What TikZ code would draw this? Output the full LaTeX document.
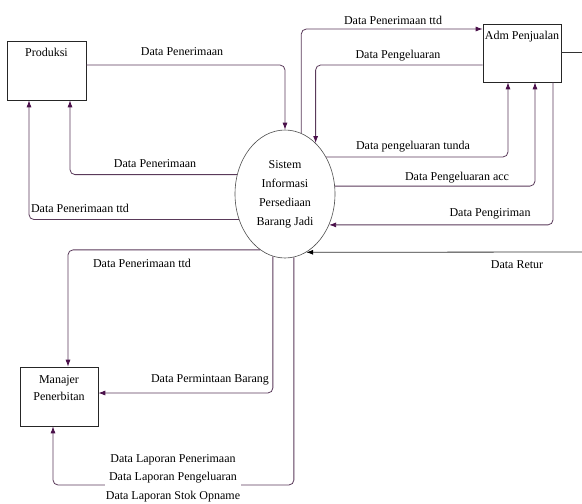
\documentclass[tikz,border=0pt]{standalone}
\usepackage{fontspec}
\setmainfont{Liberation Serif}
\usetikzlibrary{shapes.geometric,arrows.meta}
\definecolor{lc}{HTML}{5A3A5A}
\definecolor{ah}{HTML}{4A104A}
\begin{document}
\begin{tikzpicture}[x=1pt,y=-1pt,
 every node/.style={font=\fontsize{12}{14}\selectfont},
 box/.style={draw=black!85, line width=0.6pt, minimum width=79pt, inner sep=0pt},
 boxlabel/.style={anchor=north, inner sep=0pt, align=center, font=\fontsize{12}{17}\selectfont},
 proc/.style={ellipse, draw=black!70, line width=0.6pt, minimum width=100pt, minimum height=128pt, inner sep=0pt, align=center, font=\fontsize{12}{19}\selectfont},
 flow/.style={draw=lc, line width=0.8pt, rounded corners=5pt, -{Latex[length=7pt,width=5pt,color=ah]}},
 flowblack/.style={draw=black!80, line width=0.8pt, -{Latex[length=7pt,width=5pt,color=black]}},
 plain/.style={draw=black!80, line width=0.8pt},
 lbl/.style={inner sep=1pt}]
\useasboundingbox (0,0) rectangle (582,504);

% nodes
\node[box, minimum height=59pt, label={[boxlabel, yshift=-7pt]north:Produksi}] (prod) at (46.5,70.5) {};
\node[box, minimum height=58pt, minimum width=78pt, label={[boxlabel, yshift=-7pt]north:Adm Penjualan}] (adm) at (522,53) {};
\node[box, minimum height=59pt, minimum width=78pt, label={[boxlabel, yshift=-9pt]north:Manajer\\Penerbitan}] (man) at (59,396.5) {};
\node[proc] (s) at (285,194) {Sistem\\Informasi\\Persediaan\\Barang Jadi};

\coordinate (ext) at (582,52);
\coordinate (ret) at (582,252);
\coordinate (lp) at (53,485);

% connectors
\draw[flow] (prod.east |- 0,65) -| (s.north);
\draw[flow] (s.158.3) -| (prod.south -| 70,0);
\draw[flow] (s.209.6) -| (prod.south -| 29,0);
\draw[flow] (s.75.2) |- (adm.west |- 0,29);
\draw[flow] (adm.west |- 0,65) -| (s.59.6);
\draw[flow] (s.42.2) -| (adm.south -| 508,0);
\draw[flow] (s.9.2) -| (adm.south -| 535,0);
\draw[flow] (adm.south -| 553,0) |- (s.325.8);
\draw[plain] (adm.east |- ext) -- (ext);
\draw[flowblack] (ret) -- (s.290);
\draw[flow] (s.246.6) -| (man.north -| 68,0);
\draw[flow] (s.259.1) |- (man.east |- 0,393);
\draw[flow] (s.278.1) |- (lp) -- (man.south -| lp);

% labels
\node[lbl] at (182,52) {Data Penerimaan};
\node[lbl] at (155,164) {Data Penerimaan};
\node[lbl] at (80,208) {Data Penerimaan ttd};
\node[lbl] at (393,20) {Data Penerimaan ttd};
\node[lbl] at (398,56) {Data Pengeluaran};
\node[lbl] at (413,147) {Data pengeluaran tunda};
\node[lbl] at (457,178) {Data Pengeluaran acc};
\node[lbl] at (490,214) {Data Pengiriman};
\node[lbl] at (517,265) {Data Retur};
\node[lbl] at (142,263) {Data Penerimaan ttd};
\node[lbl] at (210,380) {Data Permintaan Barang};
\node[lbl, fill=white, align=center, font=\fontsize{12}{18.5}\selectfont] at (173,478) {Data Laporan Penerimaan\\Data Laporan Pengeluaran\\Data Laporan Stok Opname};
\end{tikzpicture}
\end{document}
